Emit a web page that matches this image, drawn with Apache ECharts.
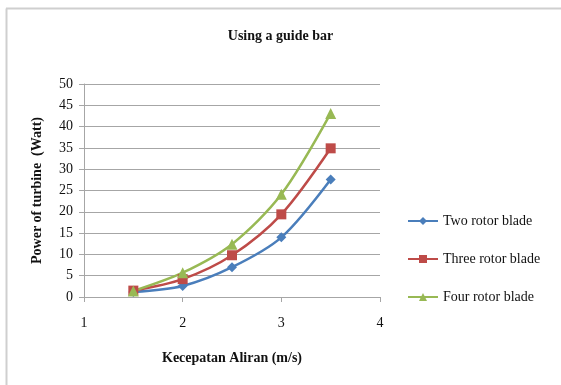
<!DOCTYPE html>
<html>
<head>
<meta charset="utf-8">
<script src="https://cdn.jsdelivr.net/npm/echarts@6/dist/echarts.min.js"></script>
<style>
  html, body { margin: 0; padding: 0; background: #fff; }
  #chart { width: 561px; height: 385px; }
</style>
</head>
<body>
<div id="chart"></div>
<script>
// Flow speed (m/s) and turbine power (W) for each rotor configuration
const speeds = [1.5, 2, 2.5, 3, 3.5];
const twoBlade = [1.2, 2.6, 7.0, 14.0, 27.6];
const threeBlade = [1.5, 4.2, 9.8, 19.4, 34.9];
const fourBlade = [1.4, 5.7, 12.4, 24.1, 43.1];
const seriesNames = ['Two rotor blade', 'Three rotor blade', 'Four rotor blade'];

const serif = '"Liberation Serif", "DejaVu Serif", serif';
const pair = (ys) => speeds.map((x, i) => [x, ys[i]]);

const chart = echarts.init(document.getElementById('chart'));
chart.setOption({
  animation: false,
  backgroundColor: '#fff',
  title: {
    text: 'Using a guide bar',
    left: 'center',
    top: 24,
    textStyle: { fontFamily: serif, fontWeight: 'bold', fontSize: 14, color: '#111' }
  },
  grid: { left: 84, right: 181, top: 84, bottom: 88 },
  legend: {
    orient: 'vertical',
    left: 402,
    top: 209,
    itemWidth: 30,
    itemHeight: 10,
    itemGap: 24,
    data: seriesNames,
    textStyle: { fontFamily: serif, fontSize: 14, color: '#111' }
  },
  xAxis: {
    type: 'value',
    min: 1, max: 4, interval: 1,
    name: 'Kecepatan Aliran (m/s)',
    nameLocation: 'middle',
    nameGap: 54,
    nameTextStyle: { fontFamily: serif, fontWeight: 'bold', fontSize: 14, color: '#111' },
    axisLine: { show: true, lineStyle: { color: '#a6a6a6', width: 1 } },
    axisTick: { show: true, length: 5, lineStyle: { color: '#a6a6a6' } },
    axisLabel: { fontFamily: serif, fontSize: 14, color: '#111', margin: 19 },
    splitLine: { show: false }
  },
  yAxis: {
    type: 'value',
    min: 0, max: 50, interval: 5,
    name: 'Power of turbine  (Watt)',
    nameLocation: 'middle',
    nameGap: 40,
    nameRotate: 90,
    nameTextStyle: { fontFamily: serif, fontWeight: 'bold', fontSize: 14, color: '#111' },
    axisLine: { show: true, lineStyle: { color: '#a6a6a6', width: 1 } },
    axisTick: { show: true, length: 5, lineStyle: { color: '#a6a6a6' } },
    axisLabel: { fontFamily: serif, fontSize: 14, color: '#111', margin: 11 },
    splitLine: { show: true, lineStyle: { color: '#a6a6a6', width: 1 } }
  },
  graphic: [
    { type: 'line', shape: { x1: 6.5, y1: 8.5, x2: 6.5, y2: 385 }, style: { stroke: '#cfcfcf', lineWidth: 2 } },
    { type: 'line', shape: { x1: 6, y1: 8.5, x2: 561, y2: 8.5 }, style: { stroke: '#cfcfcf', lineWidth: 2 } }
  ],
  series: [
    {
      name: seriesNames[0], type: 'line', smooth: 0.3, data: pair(twoBlade),
      symbol: 'diamond', symbolSize: 10,
      itemStyle: { color: '#4a7ebb' }, lineStyle: { width: 2.5, color: '#4a7ebb' }
    },
    {
      name: seriesNames[1], type: 'line', smooth: 0.3, data: pair(threeBlade),
      symbol: 'rect', symbolSize: 10,
      itemStyle: { color: '#be4b48' }, lineStyle: { width: 2.5, color: '#be4b48' }
    },
    {
      name: seriesNames[2], type: 'line', smooth: 0.3, data: pair(fourBlade),
      symbol: 'triangle', symbolSize: 11,
      itemStyle: { color: '#98b954' }, lineStyle: { width: 2.5, color: '#98b954' }
    }
  ]
});
</script>
</body>
</html>
